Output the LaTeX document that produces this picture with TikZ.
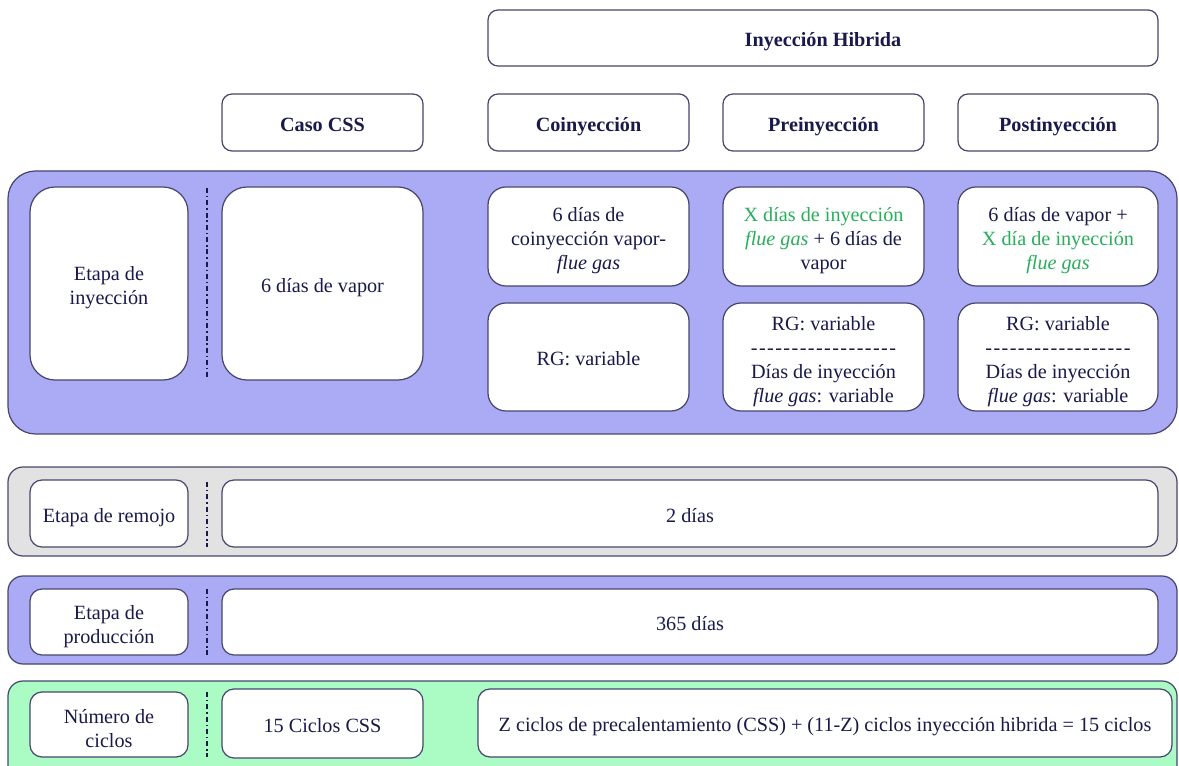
\documentclass[tikz,border=0pt]{standalone}
\usepackage{fontspec}
\setmainfont{LiberationSerif}[Extension=.ttf, UprightFont=*-Regular, BoldFont=*-Bold,
  ItalicFont=*-Italic, BoldItalicFont=*-BoldItalic]
\newfontfamily\guionfont{LiberationSerif}[Extension=.ttf, UprightFont=*-Regular, LetterSpace=7]

\definecolor{hbazul}{RGB}{171, 171, 245}
\definecolor{hbgris}{RGB}{226, 226, 226}
\definecolor{hbverde}{RGB}{171, 251, 197}
\definecolor{hbborde}{RGB}{70, 70, 110}
\definecolor{hbtexto}{RGB}{25, 25, 75}
\definecolor{hbvtexto}{RGB}{40, 175, 90}

\newcommand{\verdetx}[1]{\textcolor{hbvtexto}{#1}}
\newcommand{\fg}{\textit{flue gas}}
\newcommand{\guiones}{{\guionfont ------------------}}
\newcommand{\puntal}{\rule[-2.6pt]{0pt}{15.2pt}}  % una linea
\newcommand{\puntalm}{\rule{0pt}{12.9pt}}         % varias lineas

\begin{document}
\begin{tikzpicture}[
    x=0.02cm, y=-0.02cm,
    font=\fontsize{11.5}{13.7}\selectfont,
    text=hbtexto,
    banda/.style={draw=hbborde, line width=0.7pt},
    caja/.style={draw=hbborde, fill=white, line width=0.7pt, align=center,
                 inner sep=0pt, outer sep=0pt},
    dim/.style 2 args={minimum width=#1*0.02cm, minimum height=#2*0.02cm},
    divisor/.style={draw=hbtexto, line width=1.1pt,
                    dash pattern=on 2.8pt off 1.7pt on 0.8pt off 1.7pt},
  ]
    \useasboundingbox (0,0) rectangle (1179,766);
    \clip (0,0) rectangle (1179,766);

    % --- cabeceras ---
    \node[caja, dim={670}{56}, rounded corners=0.2cm] (hibrida) at (823,38) {\puntal\textbf{Inyección Hibrida}};
    \node[caja, dim={201}{57}, rounded corners=0.2cm] (caso) at (322.5,122.5) {\puntal\textbf{Caso CSS}};
    \node[caja, dim={201}{57}, rounded corners=0.2cm] (coin) at (588.5,122.5) {\puntal\textbf{Coinyección}};
    \node[caja, dim={201}{57}, rounded corners=0.2cm] (pre) at (823.5,122.5) {\puntal\textbf{Preinyección}};
    \node[caja, dim={200}{57}, rounded corners=0.2cm] (post) at (1058,122.5) {\puntal\textbf{Postinyección}};

    % --- bandas de fondo ---
    \draw[banda, fill=hbazul, rounded corners=0.55cm] (8,171) rectangle (1177,434);
    \draw[banda, fill=hbgris, rounded corners=0.3cm] (8,467) rectangle (1177,556);
    \draw[banda, fill=hbazul, rounded corners=0.3cm] (8,576) rectangle (1177,664);
    \draw[banda, fill=hbverde, rounded corners=0.3cm] (8,681) rectangle (1177,790);

    \foreach \ya/\yb in {188/380, 482/547, 589/655, 692/757}
      \draw[divisor] (207,\ya) -- (207,\yb);

    % --- etapa de inyeccion ---
    \node[caja, dim={158}{193}, rounded corners=0.5cm] (etiny) at (109,283.5) {\puntalm Etapa de\\inyección};
    \node[caja, dim={201}{193}, rounded corners=0.5cm] (vapor) at (322.5,283.5) {\puntal 6 días de vapor};
    \node[caja, dim={201}{99}, rounded corners=0.36cm] (cointop) at (588.5,236.5)
      {\puntalm 6 días de\\coinyección vapor-\\\fg};
    \node[caja, dim={201}{108}, rounded corners=0.36cm] (coinbot) at (588.5,357) {\puntal RG: variable};
    \node[caja, dim={201}{99}, rounded corners=0.36cm] (pretop) at (823.5,236.5)
      {\puntalm\verdetx{X días de inyección}\\\verdetx{\fg} + 6 días de\\vapor};
    \node[caja, dim={201}{108}, rounded corners=0.36cm] (prebot) at (823.5,357)
      {\puntalm RG: variable\\\guiones\\Días de inyección\\\fg: variable};
    \node[caja, dim={200}{99}, rounded corners=0.36cm] (posttop) at (1058,236.5)
      {\puntalm 6 días de vapor +\\\verdetx{X día de inyección}\\\verdetx{\fg}};
    \node[caja, dim={200}{108}, rounded corners=0.36cm] (postbot) at (1058,357)
      {\puntalm RG: variable\\\guiones\\Días de inyección\\\fg: variable};

    % --- remojo, produccion, ciclos ---
    \node[caja, dim={158}{67}, rounded corners=0.24cm] (remojo) at (109,513.5) {\puntal Etapa de remojo};
    \node[caja, dim={936}{67}, rounded corners=0.24cm] (dosdias) at (690,513.5) {\puntal 2 días};
    \node[caja, dim={158}{66}, rounded corners=0.24cm] (prod) at (109,622) {\puntalm Etapa de\\producción};
    \node[caja, dim={936}{66}, rounded corners=0.24cm] (tresdias) at (690,622) {\puntal 365 días};
    \node[caja, dim={158}{65}, rounded corners=0.24cm] (ciclos) at (109,724.5) {\puntalm Número de\\ciclos};
    \node[caja, dim={201}{69}, rounded corners=0.24cm] (css) at (322.5,723.5) {\puntal 15 Ciclos CSS};
    \node[caja, dim={694}{68}, rounded corners=0.24cm] (zciclos) at (825,723)
      {\puntal Z ciclos de precalentamiento (CSS) + (11-Z) ciclos inyección hibrida = 15 ciclos};
\end{tikzpicture}
\end{document}
